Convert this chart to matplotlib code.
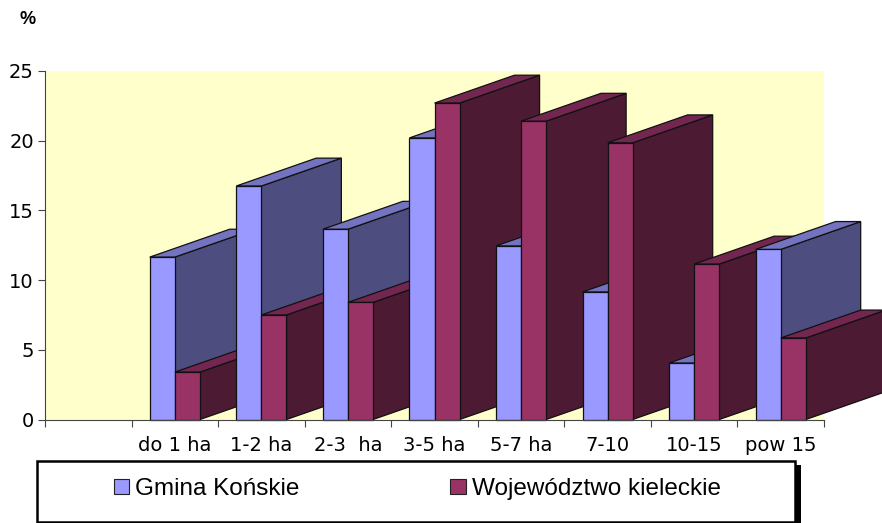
import matplotlib
matplotlib.use('Agg')
import matplotlib.pyplot as plt
from matplotlib.patches import Patch, Rectangle

plt.rcParams['font.family'] = ['Liberation Sans', 'DejaVu Sans']

categories = ['', 'do 1 ha', '1-2 ha', '2-3  ha', '3-5 ha', '5-7 ha', '7-10', '10-15', 'pow 15']
gmina = [0, 11.65, 16.75, 13.65, 20.2, 12.45, 9.15, 4.05, 12.2]
wojewodztwo = [0, 3.4, 7.5, 8.4, 22.7, 21.4, 19.85, 11.15, 5.85]
yticks = [0, 5, 10, 15, 20, 25]

BAR_W = 0.29
DEPTH_X = 0.924
DEPTH_Y = 2.0
BLUE = ('#9999FF', '#7373BF', '#4D4D7F')
RED = ('#993366', '#732650', '#4D1A33')

fig = plt.figure(figsize=(8.82, 5.23), dpi=100)
ax = fig.add_axes([45 / 882, 103.5 / 523, 779 / 882, 348.5 / 523])
ax.set_facecolor('#FFFFCC')


def bar3d(x, h, colors, z):
    # front, top and side of one extruded bar
    front, top, side = colors
    kw = dict(edgecolor='#111111', linewidth=0.9, clip_on=False)
    r = x + BAR_W
    ax.fill([r, r + DEPTH_X, r + DEPTH_X, r], [0, DEPTH_Y, h + DEPTH_Y, h], facecolor=side, zorder=z, **kw)
    ax.fill([x, x + DEPTH_X, r + DEPTH_X, r], [h, h + DEPTH_Y, h + DEPTH_Y, h], facecolor=top, zorder=z, **kw)
    ax.bar(x, h, BAR_W, align='edge', facecolor=front, zorder=z + 0.1, **kw)


for i in range(1, len(categories)):
    c = i + 0.5
    bar3d(c - BAR_W, gmina[i], BLUE, 3 + i)
    bar3d(c, wojewodztwo[i], RED, 3 + i + 0.5)

ax.set_xlim(0, len(categories))
ax.set_ylim(0, 25)
ax.set_yticks(yticks)
ax.set_xticks(range(len(categories) + 1))
ax.set_xticklabels([])
ax.set_xticks([i + 0.5 for i in range(len(categories))], categories, minor=True)
ax.tick_params(axis='x', which='major', length=5, width=0.8, color='#444444')
ax.tick_params(axis='x', which='minor', length=0, pad=12)
ax.tick_params(axis='y', length=5, width=0.8, color='#444444', pad=3)
# the original's labels are stretched Arial, DejaVu has the nearest proportions
for lab in ax.get_xticklabels(minor=True) + ax.get_yticklabels():
    lab.set_family('DejaVu Sans')
    lab.set_fontsize(14)
for s in ['top', 'right']:
    ax.spines[s].set_visible(False)
for s in ['left', 'bottom']:
    ax.spines[s].set_color('#444444')
    ax.spines[s].set_linewidth(0.8)
    ax.spines[s].set_zorder(20)

fig.text(28 / 882, 1 - 19 / 523, '%', fontsize=13, fontweight='bold', ha='center', va='center')

# legend frame and its hard shadow
tf = fig.transFigure
fig.add_artist(Rectangle((41 / 882, 1 - 523 / 523), 760 / 882, 58 / 523, transform=tf, facecolor='black', edgecolor='none'))
fig.add_artist(Rectangle((36.5 / 882, 1 - 521.5 / 523), 758 / 882, 60.5 / 523, transform=tf, facecolor='white', edgecolor='black', linewidth=1.8))
handles = [Patch(facecolor=BLUE[0], edgecolor='#222222', linewidth=0.8),
           Patch(facecolor=RED[0], edgecolor='#222222', linewidth=0.8)]
fig.legend(handles, ['Gmina Końskie', 'Województwo kieleckie'], ncol=2, frameon=False,
           loc='center left', bbox_to_anchor=(114 / 882, 1 - 489 / 523), borderaxespad=0, borderpad=0,
           fontsize=17.5, handlelength=0.63, handleheight=0.55, handletextpad=0.25, columnspacing=6.2)

fig.savefig('out.png', dpi=100)
